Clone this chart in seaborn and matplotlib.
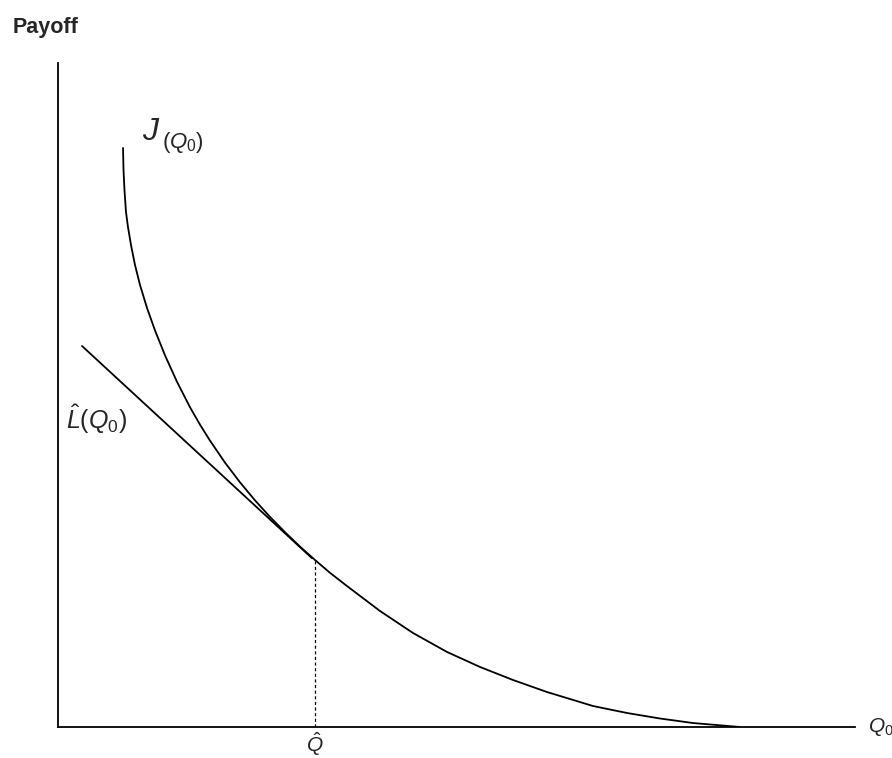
import matplotlib
matplotlib.use("Agg")
import matplotlib.pyplot as plt
import seaborn as sns
import pandas as pd

# curve J(Q0) (units: 0-100 on both axes)
j_x = [8.16, 8.22, 8.34, 8.53, 8.78, 9.16, 9.66, 10.29, 11.17, 12.17, 13.43,
       14.93, 16.56, 17.82, 19.07, 20.95, 22.84, 24.72, 26.60, 28.48, 30.36,
       32.25, 34.13, 36.26, 40.40, 44.54, 48.81, 52.95, 57.09, 61.35, 67.13,
       71.39, 75.53, 79.67, 85.57]
j_y = [87.20, 83.89, 80.87, 77.56, 75.30, 72.59, 69.58, 66.57, 63.10, 59.73, 55.96,
       51.99, 48.16, 45.53, 43.13, 39.82, 36.84, 34.13, 31.64, 29.34, 27.17,
       25.15, 23.22, 21.23, 17.47, 14.16, 11.30, 9.04, 7.08, 5.27, 3.16,
       2.11, 1.28, 0.60, 0.00]

# tangent line L^(Q0)
l_x = [3.01, 31.87]
l_y = [57.38, 25.42]

# Q hat
q_hat = 32.25
q_hat_y = 25.15

sns.set_style("white")
plt.rcParams["font.family"] = ["Liberation Sans", "DejaVu Sans"]
plt.rcParams["mathtext.fontset"] = "custom"
plt.rcParams["mathtext.it"] = "Liberation Sans:italic"
plt.rcParams["mathtext.rm"] = "Liberation Sans"

fig = plt.figure(figsize=(8.92, 7.58), dpi=100)
ax = fig.add_axes([58 / 892, 31 / 758, 797 / 892, 664 / 758])

df_j = pd.DataFrame({"x": j_x, "y": j_y})
df_l = pd.DataFrame({"x": l_x, "y": l_y})
sns.lineplot(data=df_j, x="x", y="y", sort=False, color="black", lw=1.3, ax=ax)
sns.lineplot(data=df_l, x="x", y="y", sort=False, color="black", lw=1.3, ax=ax)
ax.plot([q_hat, q_hat], [0, q_hat_y], color="black", lw=0.9, ls=(0, (2.5, 2)))

ax.set_xlim(0, 100)
ax.set_ylim(0, 100)
ax.set_xticks([])
ax.set_yticks([])
ax.set_xlabel("")
ax.set_ylabel("")
sns.despine(ax=ax)
for s in ["left", "bottom"]:
    ax.spines[s].set_linewidth(1.3)
    ax.spines[s].set_color("black")

fig.text(13 / 892, 1 - 27 / 758, "Payoff", fontsize=15.5, fontweight="bold", va="center", ha="left")
ax.text(10.6, 89.6, "$J$", fontsize=23, va="center", ha="left")
ax.text(13.1, 88.0, "$(Q_0)$", fontsize=16, va="center", ha="left")
ax.text(1.0, 46.3, r"$\hat{L}(Q_0)$", fontsize=18, va="center", ha="left")
ax.text(q_hat, -2.6, r"$\hat{Q}$", fontsize=15, va="center", ha="center", clip_on=False)
ax.text(101.6, 0, "$Q_0$", fontsize=15, va="center", ha="left", clip_on=False)

fig.savefig("out.png", dpi=100)
